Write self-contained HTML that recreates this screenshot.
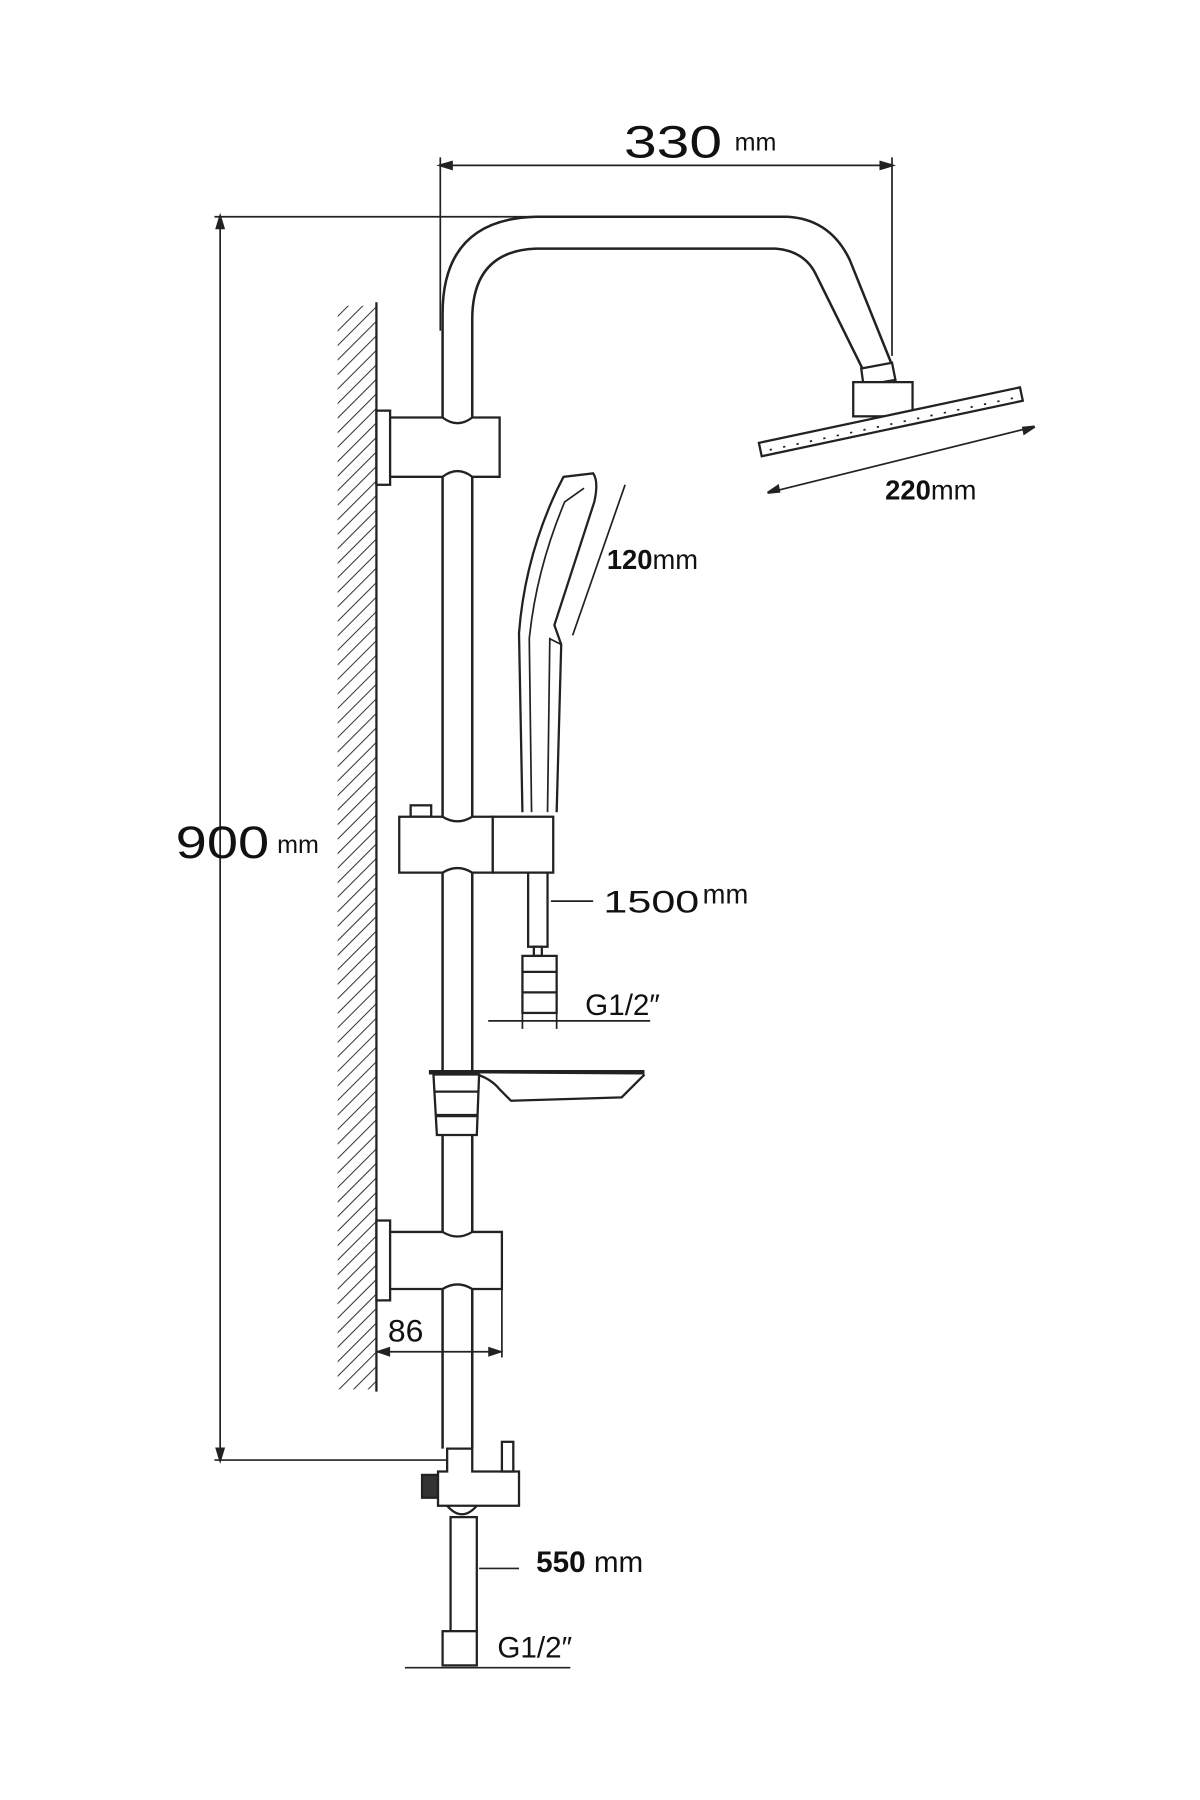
<!DOCTYPE html>
<html><head><meta charset="utf-8"><style>
html,body{margin:0;padding:0;background:#fff;width:1200px;height:1800px;overflow:hidden}
svg{display:block}
text{font-family:"Liberation Sans",sans-serif;fill:#111}
</style></head><body>
<svg width="1200" height="1800" viewBox="0 0 1052 1578" preserveAspectRatio="none" xmlns="http://www.w3.org/2000/svg">
<defs>
<pattern id="h" width="9" height="9" patternUnits="userSpaceOnUse" patternTransform="rotate(45)">
<line x1="0" y1="0" x2="0" y2="9" stroke="#333" stroke-width="1.8"/>
</pattern>
</defs>
<g fill="none" stroke="#222" stroke-width="2">
<line x1="386" y1="145" x2="782" y2="145" stroke-width="1.5"/>
<line x1="386" y1="138" x2="386" y2="290" stroke-width="1.5"/>
<line x1="782" y1="138" x2="782" y2="312" stroke-width="1.5"/>
<path d="M386 145 l10 -3 v6 z M782 145 l-10 -3 v6 z" fill="#222"/>
<line x1="193" y1="190" x2="193" y2="1280" stroke-width="1.5"/>
<line x1="188" y1="190" x2="470" y2="190" stroke-width="1.5"/>
<line x1="188" y1="1280" x2="395" y2="1280" stroke-width="1.5"/>
<path d="M193 190 l-3 10 h6 z M193 1280 l-3 -10 h6 z" fill="#222"/>
<rect x="296" y="268" width="34" height="950" fill="url(#h)" stroke="none"/>
<line x1="330" y1="265" x2="330" y2="1220"/>
<path d="M388 1270 V275 Q388 192 470 190 H690 Q728 192 745 228 L782 320" stroke-width="2.2"/>
<path d="M414 1270 V280 Q414 220 470 218 H680 Q705 220 715 240 L757 325" stroke-width="2.2"/>
<path d="M755 323 L782 318 L785 333 L757 338 Z" fill="#fff"/>
<rect x="748" y="335" width="52" height="30" fill="#fff"/>
<g transform="rotate(-12 780 370)">
<rect x="664" y="364" width="234" height="12" fill="#fff"/>
<line x1="672" y1="372" x2="890" y2="372" stroke-dasharray="2 10" stroke-width="1.5"/>
</g>
<line x1="673" y1="432" x2="907" y2="374" stroke-width="1.5"/>
<path d="M673 432 l9 -6 l1 5 z M907 374 l-9 6 l-1 -5 z" fill="#222"/>
<rect x="330" y="360" width="12" height="65" fill="#fff"/>
<path d="M342 366 H388 Q401 376 414 366 H438 V418 H414 Q401 408 388 418 H342 Z" fill="#fff"/>
<path d="M458 712 L455 555 Q460 490 488 430 L494 418 L520 415 Q525 422 521 440 L486 548 L492 565 L488 712" fill="#fff"/>
<path d="M466 712 L464 560 Q470 500 495 440 L512 428" stroke-width="1.5"/>
<path d="M480 712 L482 560 L492 565" stroke-width="1.5"/>
<line x1="548" y1="425" x2="502" y2="557" stroke-width="1.5"/>
<rect x="360" y="706" width="18" height="10" fill="#fff"/>
<path d="M350 716 H388 Q401 724 414 716 H432 V765 H414 Q401 757 388 765 H350 Z" fill="#fff"/>
<rect x="432" y="716" width="53" height="49" fill="#fff"/>
<rect x="463" y="765" width="17" height="65" fill="#fff"/>
<line x1="483" y1="790" x2="520" y2="790" stroke-width="1.5"/>
<path d="M468 830 h7 v8 h-7 z" fill="#fff"/>
<rect x="458" y="838" width="30" height="50" fill="#fff"/>
<line x1="458" y1="852" x2="488" y2="852"/>
<line x1="458" y1="870" x2="488" y2="870"/>
<line x1="428" y1="895" x2="570" y2="895" stroke-width="1.5"/>
<line x1="458" y1="885" x2="458" y2="902" stroke-width="1.5"/>
<line x1="488" y1="885" x2="488" y2="902" stroke-width="1.5"/>
<line x1="376" y1="940" x2="565" y2="940" stroke-width="4"/>
<path d="M415 941 Q430 945 438 955 L448 965 L545 962 L565 942" fill="#fff"/>
<path d="M380 942 L383 995 H418 L420 942 Z" fill="#fff"/>
<line x1="381" y1="957" x2="420" y2="957"/>
<line x1="382" y1="978" x2="419" y2="978" stroke-width="3"/>
<rect x="330" y="1070" width="12" height="70" fill="#fff"/>
<path d="M342 1080 H388 Q401 1088 414 1080 H440 V1130 H414 Q401 1122 388 1130 H342 Z" fill="#fff"/>
<line x1="330" y1="1185" x2="440" y2="1185" stroke-width="1.5"/>
<line x1="440" y1="1130" x2="440" y2="1190" stroke-width="1.5"/>
<path d="M332 1185 l9 -3 v6 z M438 1185 l-9 -3 v6 z" fill="#222"/>
<rect x="370" y="1293" width="14" height="20" fill="#333"/>
<path d="M384 1290 H392 V1270 H414 V1290 H455 V1320 H384 Z" fill="#fff"/>
<rect x="440" y="1264" width="10" height="26" fill="#fff"/>
<path d="M392 1320 Q405 1335 418 1320" />
<rect x="395" y="1330" width="23" height="100" fill="#fff"/>
<line x1="420" y1="1375" x2="455" y2="1375" stroke-width="1.5"/>
<rect x="388" y="1430" width="30" height="30" fill="#fff"/>
<line x1="355" y1="1462" x2="500" y2="1462" stroke-width="1.5"/>
</g>
<g>
<text x="547" y="138" font-size="40" textLength="86" lengthAdjust="spacingAndGlyphs">330</text>
<text x="644" y="132" font-size="22">mm</text>
<text x="154" y="752" font-size="40" textLength="82" lengthAdjust="spacingAndGlyphs">900</text>
<text x="243" y="748" font-size="22">mm</text>
<text x="776" y="438" font-size="24"><tspan font-weight="bold">220</tspan>mm</text>
<text x="532" y="499" font-size="24"><tspan font-weight="bold">120</tspan>mm</text>
<text x="529" y="800" font-size="28" textLength="84" lengthAdjust="spacingAndGlyphs">1500</text>
<text x="616" y="792" font-size="24">mm</text>
<text x="513" y="890" font-size="26">G1/2″</text>
<text x="340" y="1176" font-size="28">86</text>
<text x="470" y="1378" font-size="26"><tspan font-weight="bold">550</tspan> mm</text>
<text x="436" y="1453" font-size="26">G1/2″</text>
</g>
</svg>
</body></html>
